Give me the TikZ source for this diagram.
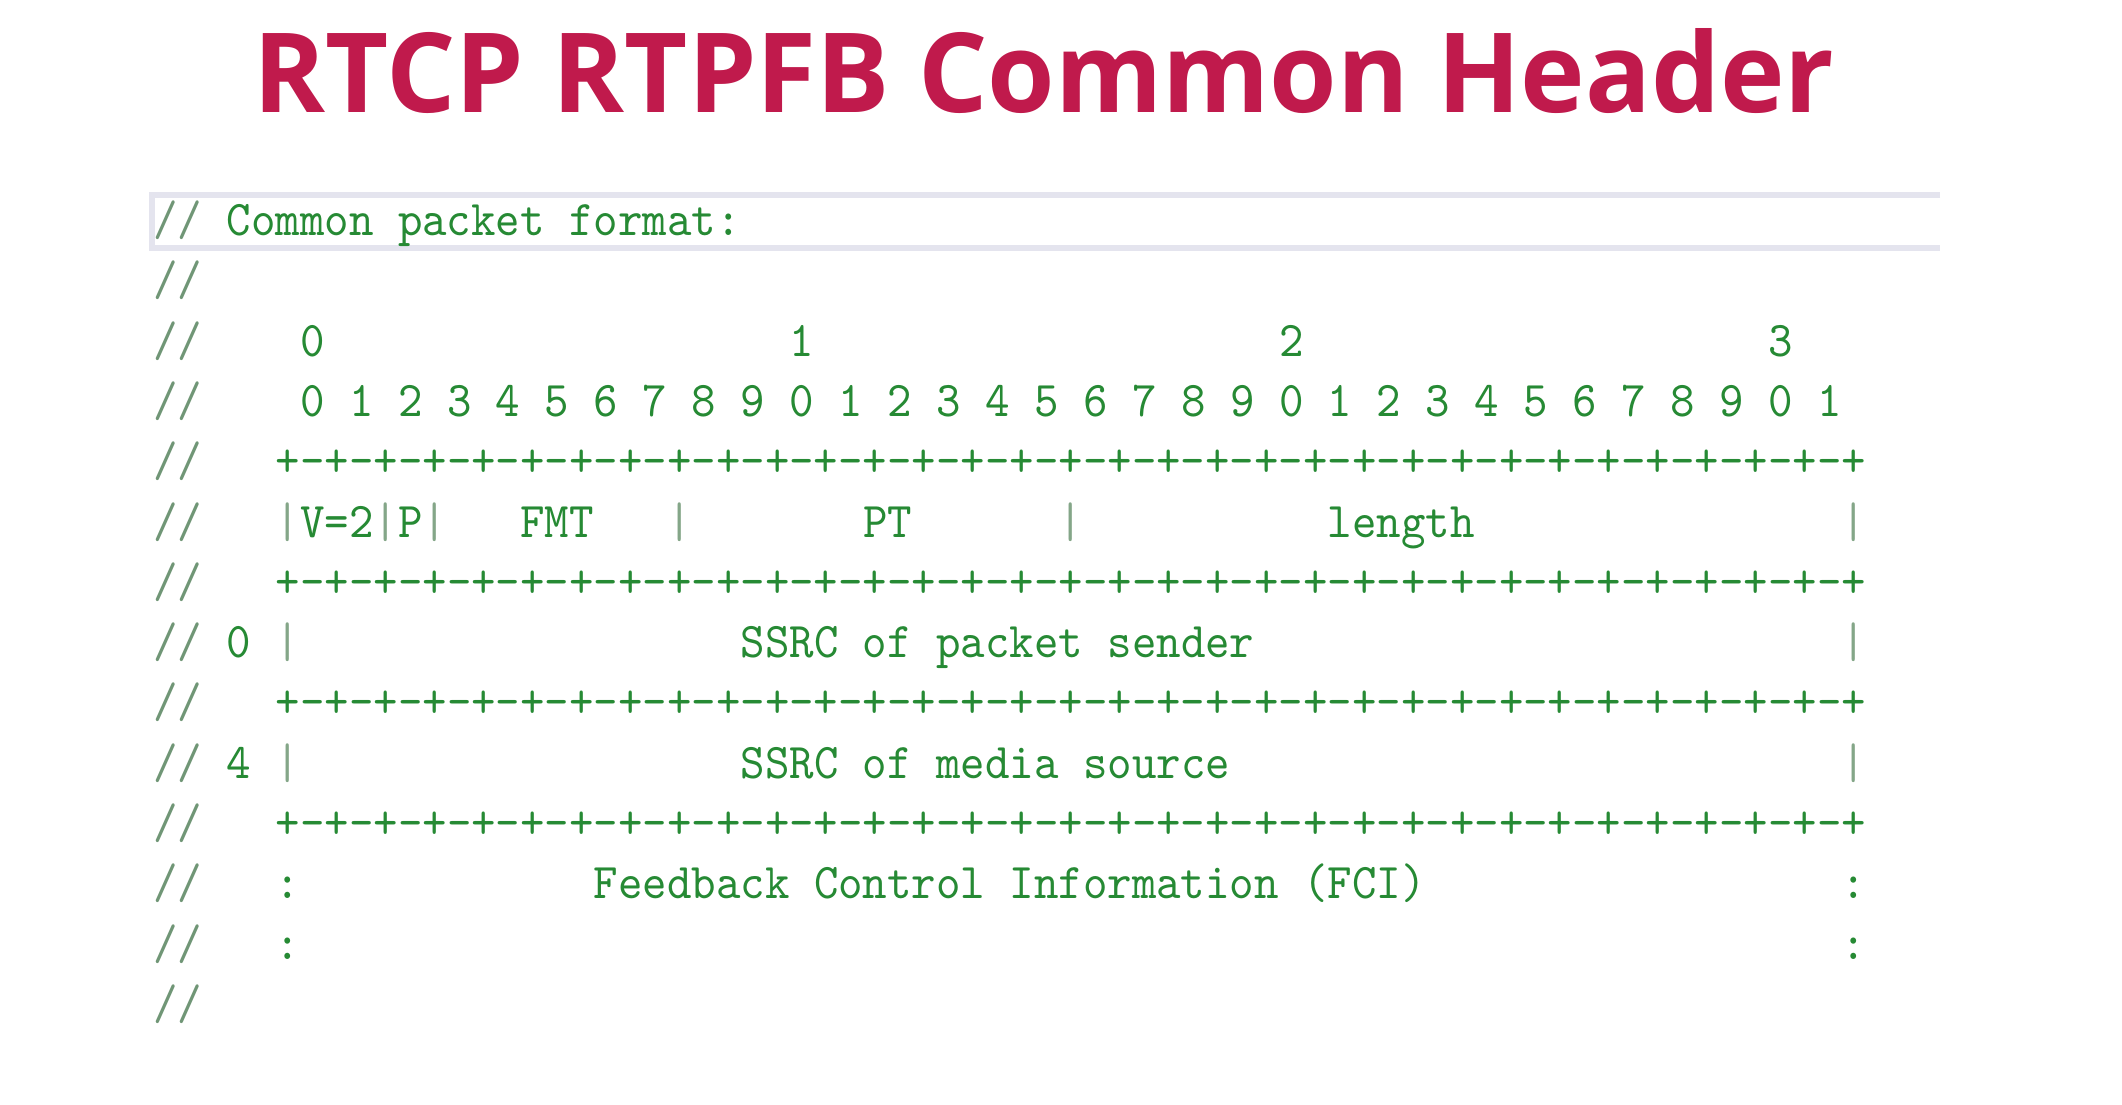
\documentclass[tikz,border=0pt]{standalone}
\usepackage{fontspec}
\newfontfamily\titlefont[FakeStretch=0.987]{Open Sans}
\newfontfamily\codefont[Extension=.otf,FakeStretch=0.932]{lmmono10-regular}
\definecolor{titlered}{RGB}{192,26,76}
\definecolor{codegreen}{RGB}{38,138,52}
\definecolor{slashgray}{RGB}{112,150,118}
\definecolor{bargray}{RGB}{132,166,136}
\definecolor{bandgray}{RGB}{228,228,238}
% one grid cell = one character of the monospaced listing
\tikzset{
  x=0.5pt, y=-0.5pt,
  cell/.style 2 args={at={({153+(#1)*24.47},{235.6+(#2)*60.29})}},
  code/.style={inner sep=0pt, anchor=base west, text=codegreen,
    font=\codefont\fontsize{25}{30}\selectfont},
  slash/.style={code, text=slashgray},
  bar/.style={code, text=bargray},
  titletext/.style={inner sep=0pt, anchor=base, text=titlered,
    font=\titlefont\bfseries\fontsize{55.3}{60}\selectfont},
}
\newcommand\plusrow{+-+-+-+-+-+-+-+-+-+-+-+-+-+-+-+-+-+-+-+-+-+-+-+-+-+-+-+-+-+-+-+-+}
\begin{document}
\begin{tikzpicture}
\useasboundingbox[fill=white] (0,0) rectangle (2122,1104);

% heading
\node[titletext] (title) at (1044,112) {RTCP RTPFB Common Header};

% current-line highlight of the editor
\draw[bandgray, line width=3pt] (1940,195) -- (152,195) -- (152,248) -- (1940,248);

% comment markers
\foreach \r in {0,...,13} \node[slash, cell={0}{\r}] (sl\r) {//};

\node[code, cell={3}{0}] (caption) {Common packet format:};

% bit ruler
\node[code, cell={6}{2}] (oct0) {0};
\node[code, cell={26}{2}] (oct1) {1};
\node[code, cell={46}{2}] (oct2) {2};
\node[code, cell={66}{2}] (oct3) {3};
\foreach \k in {0,...,31} {
  \pgfmathtruncatemacro\d{mod(\k,10)}
  \node[code, cell={6+2*\k}{3}] (bit\k) {\d};
}

% separator rows
\node[code, cell={5}{4}] (sepA) {\plusrow};
\node[code, cell={5}{6}] (sepB) {\plusrow};
\node[code, cell={5}{8}] (sepC) {\plusrow};
\node[code, cell={5}{10}] (sepD) {\plusrow};

% first word
\node[bar, cell={5}{5}] (b0) {|};
\node[code, cell={6}{5}] (ver) {V=2};
\node[bar, cell={9}{5}] (b1) {|};
\node[code, cell={10}{5}] (pad) {P};
\node[bar, cell={11}{5}] (b2) {|};
\node[code, cell={15}{5}] (fmt) {FMT};
\node[bar, cell={21}{5}] (b3) {|};
\node[code, cell={29}{5}] (pt) {PT};
\node[bar, cell={37}{5}] (b4) {|};
\node[code, cell={48}{5}] (len) {length};
\node[bar, cell={69}{5}] (b5) {|};

% SSRC words
\node[code, cell={3}{7}] (off0) {0};
\node[bar, cell={5}{7}] (b6) {|};
\node[code, cell={24}{7}] (sender) {SSRC of packet sender};
\node[bar, cell={69}{7}] (b7) {|};

\node[code, cell={3}{9}] (off4) {4};
\node[bar, cell={5}{9}] (b8) {|};
\node[code, cell={24}{9}] (media) {SSRC of media source};
\node[bar, cell={69}{9}] (b9) {|};

% feedback control information
\node[code, cell={5}{11}] (c0) {:};
\node[code, cell={18}{11}] (fci) {Feedback Control Information (FCI)};
\node[code, cell={69}{11}] (c1) {:};
\node[code, cell={5}{12}] (c2) {:};
\node[code, cell={69}{12}] (c3) {:};
\end{tikzpicture}
\end{document}
